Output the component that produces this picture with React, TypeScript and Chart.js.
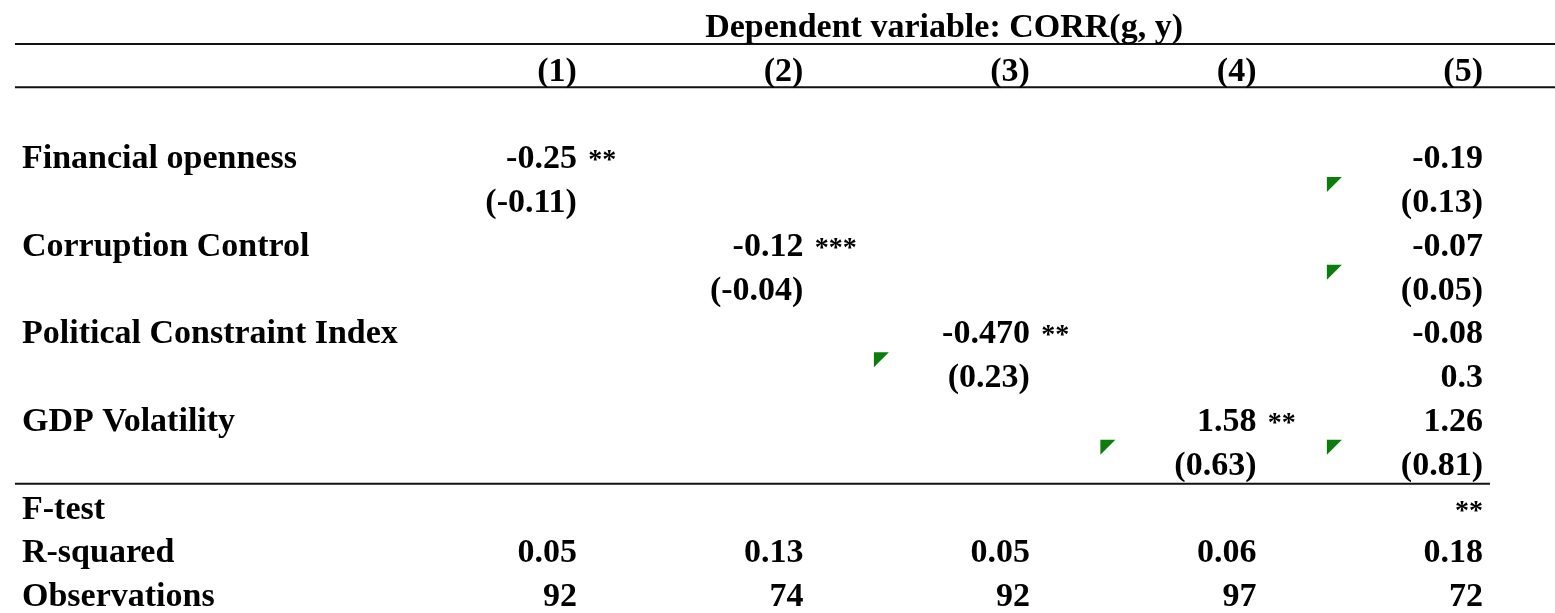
import React, { useEffect, useRef } from "react";
import { Chart, registerables } from "chart.js";

Chart.register(...registerables);

// Regression table: dependent variable CORR(g, y), five model columns.
const title = "Dependent variable: CORR(g, y)";
const modelLabels = ["(1)", "(2)", "(3)", "(4)", "(5)"];
const rowLabels = [
  "Financial openness",
  "",
  "Corruption Control",
  "",
  "Political Constraint Index",
  "",
  "GDP Volatility",
  "",
  "F-test",
  "R-squared",
  "Observations",
];

// Coefficients and standard errors, one entry per model column
const financialOpenness = ["-0.25", "", "", "", "-0.19"];
const financialOpennessSE = ["(-0.11)", "", "", "", "(0.13)"];
const corruptionControl = ["", "-0.12", "", "", "-0.07"];
const corruptionControlSE = ["", "(-0.04)", "", "", "(0.05)"];
const politicalConstraint = ["", "", "-0.470", "", "-0.08"];
const politicalConstraintSE = ["", "", "(0.23)", "", "0.3"];
const gdpVolatility = ["", "", "", "1.58", "1.26"];
const gdpVolatilitySE = ["", "", "", "(0.63)", "(0.81)"];
const fTest = ["", "", "", "", "**"];
const rSquared = ["0.05", "0.13", "0.05", "0.06", "0.18"];
const observations = ["92", "74", "92", "97", "72"];

// Significance stars next to the coefficients
const financialOpennessStars = ["**", "", "", "", ""];
const corruptionControlStars = ["", "***", "", "", ""];
const politicalConstraintStars = ["", "", "**", "", ""];
const gdpVolatilityStars = ["", "", "", "**", ""];

// Cells stored as text (spreadsheet marker in the corner)
const financialOpennessSEFlag = [false, false, false, false, true];
const corruptionControlSEFlag = [false, false, false, false, true];
const politicalConstraintSEFlag = [false, false, true, false, false];
const gdpVolatilitySEFlag = [false, false, false, true, true];

const FONT = '"Liberation Serif", "Times New Roman", serif';
const BOLD = `bold 34px ${FONT}`;
const STAR = `bold 28px ${FONT}`;

// scale geometry in column / row units
const X_MIN = -1.547;
const X_MAX = 5.318;
const Y_MIN = -0.842;
const Y_MAX = 13.153;
const LABEL_X = -1.45;
const TITLE_X = 1.566;
const STAR_GAP = 0.05;
const CELL_LEFT = 0.689;
const RULE_LEFT = -1.481;
const BOTTOM_RULE_RIGHT = 5.031;

type TextPoint = { x: number; y: number; text: string; align: CanvasTextAlign; font: string };

export default function App() {
  const ref = useRef<HTMLCanvasElement | null>(null);

  useEffect(() => {
    const canvas = ref.current;
    if (!canvas) return;

    const texts: TextPoint[] = [];
    const flags: { x: number; y: number }[] = [];

    texts.push({ x: TITLE_X, y: 0, text: title, align: "left", font: BOLD });
    modelLabels.forEach((m, i) => texts.push({ x: i + 1, y: 1, text: m, align: "right", font: BOLD }));
    rowLabels.forEach((lab, i) => {
      if (lab) texts.push({ x: LABEL_X, y: i + 3, text: lab, align: "left", font: BOLD });
    });

    const valueRows: [string[], number][] = [
      [financialOpenness, 3],
      [financialOpennessSE, 4],
      [corruptionControl, 5],
      [corruptionControlSE, 6],
      [politicalConstraint, 7],
      [politicalConstraintSE, 8],
      [gdpVolatility, 9],
      [gdpVolatilitySE, 10],
      [rSquared, 12],
      [observations, 13],
    ];
    valueRows.forEach(([vals, r]) =>
      vals.forEach((v, i) => {
        if (v) texts.push({ x: i + 1, y: r, text: v, align: "right", font: BOLD });
      })
    );
    fTest.forEach((v, i) => {
      if (v) texts.push({ x: i + 1, y: 11, text: v, align: "right", font: STAR });
    });

    const starRows: [string[], number][] = [
      [financialOpennessStars, 3],
      [corruptionControlStars, 5],
      [politicalConstraintStars, 7],
      [gdpVolatilityStars, 9],
    ];
    starRows.forEach(([vals, r]) =>
      vals.forEach((v, i) => {
        if (v) texts.push({ x: i + 1 + STAR_GAP, y: r, text: v, align: "left", font: STAR });
      })
    );

    const flagRows: [boolean[], number][] = [
      [financialOpennessSEFlag, 4],
      [corruptionControlSEFlag, 6],
      [politicalConstraintSEFlag, 8],
      [gdpVolatilitySEFlag, 10],
    ];
    flagRows.forEach(([vals, r]) =>
      vals.forEach((f, i) => {
        if (f) flags.push({ x: i + 1 - CELL_LEFT, y: r - 0.8 });
      })
    );

    const rule = (y: number, x0: number, x1: number) => ({
      type: "line" as const,
      data: [
        { x: x0, y },
        { x: x1, y },
      ],
      borderColor: "#111",
      borderWidth: 2,
      pointRadius: 0,
      showLine: true,
      clip: false as any,
    });

    const tablePlugin = {
      id: "tableText",
      afterDatasetsDraw(chart: any) {
        const ctx = chart.ctx as CanvasRenderingContext2D;
        chart.data.datasets.forEach((ds: any, di: number) => {
          if (!ds.role) return;
          const meta = chart.getDatasetMeta(di);
          meta.data.forEach((el: any, j: number) => {
            const p = ds.data[j];
            ctx.save();
            if (ds.role === "text") {
              ctx.fillStyle = "#000";
              ctx.font = p.font;
              ctx.textAlign = p.align;
              ctx.textBaseline = "alphabetic";
              ctx.fillText(p.text, el.x, el.y);
            } else if (ds.role === "flag") {
              ctx.fillStyle = "#0a7d0a";
              ctx.beginPath();
              ctx.moveTo(el.x, el.y);
              ctx.lineTo(el.x + 15, el.y);
              ctx.lineTo(el.x, el.y + 15);
              ctx.closePath();
              ctx.fill();
            }
            ctx.restore();
          });
        });
      },
    };

    const chart = new Chart(canvas, {
      type: "scatter",
      data: {
        datasets: [
          rule(0.16, RULE_LEFT, X_MAX),
          rule(1.15, RULE_LEFT, X_MAX),
          rule(10.2, RULE_LEFT, BOTTOM_RULE_RIGHT),
          { role: "text", data: texts, pointRadius: 0, clip: false } as any,
          { role: "flag", data: flags, pointRadius: 0, clip: false } as any,
        ],
      },
      options: {
        animation: false,
        responsive: false,
        maintainAspectRatio: false,
        layout: { padding: 0 },
        plugins: { legend: { display: false }, tooltip: { enabled: false } },
        events: [],
        scales: {
          x: { type: "linear", min: X_MIN, max: X_MAX, display: false },
          y: { type: "linear", min: Y_MIN, max: Y_MAX, reverse: true, display: false },
        },
      },
      plugins: [tablePlugin],
    });

    return () => chart.destroy();
  }, []);

  return (
    <div style={{ position: "fixed", left: 0, top: 0, width: 1555, height: 613, background: "#fff" }}>
      <canvas ref={ref} width={1555} height={613} style={{ display: "block" }} />
    </div>
  );
}
